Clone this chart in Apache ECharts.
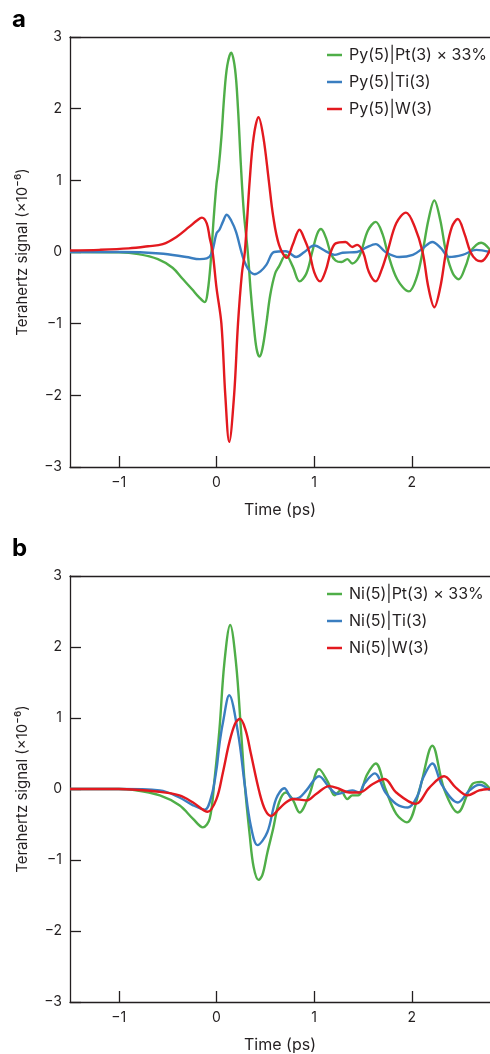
<!DOCTYPE html>
<html>
<head>
<meta charset="utf-8">
<script src="https://cdn.jsdelivr.net/npm/echarts@6/dist/echarts.min.js"></script>
<style>
  html, body { margin: 0; padding: 0; background: #fff; }
  #chart { width: 490px; height: 1054px; }
</style>
</head>
<body>
<div id="chart"></div>
<script>
// panel a: Py(5)|X(3)
const tA_pt = [-1.5,-1.0,-0.8,-0.6,-0.45,-0.35,-0.25,-0.18,-0.12,-0.09,-0.06,-0.03,0.0,0.02,0.05,0.08,0.11,0.15,0.19,0.22,0.25,0.28,0.32,0.35,0.38,0.41,0.44,0.47,0.51,0.55,0.60,0.64,0.71,0.78,0.85,0.92,0.98,1.03,1.07,1.12,1.17,1.22,1.28,1.34,1.39,1.44,1.48,1.55,1.63,1.70,1.75,1.85,1.97,2.05,2.11,2.17,2.23,2.29,2.35,2.42,2.48,2.55,2.60,2.66,2.71,2.8]
const vA_pt = [0,-0.005,-0.03,-0.10,-0.22,-0.37,-0.52,-0.63,-0.70,-0.55,-0.15,0.45,0.95,1.15,1.6,2.2,2.6,2.78,2.55,2.0,1.2,0.55,0.0,-0.55,-1.0,-1.35,-1.46,-1.35,-1.0,-0.6,-0.3,-0.2,-0.04,-0.2,-0.41,-0.3,0.0,0.25,0.32,0.2,-0.02,-0.12,-0.14,-0.10,-0.16,-0.11,0.0,0.3,0.42,0.25,0.0,-0.38,-0.55,-0.35,0.0,0.45,0.72,0.45,0.0,-0.3,-0.38,-0.2,0.0,0.1,0.13,0.03]

const tA_ti = [-1.5,-1.0,-0.58,-0.31,-0.17,-0.1,-0.05,0.0,0.03,0.065,0.105,0.15,0.2,0.27,0.33,0.39,0.45,0.51,0.59,0.71,0.815,0.9,1.0,1.12,1.21,1.29,1.44,1.53,1.63,1.73,1.87,2.01,2.11,2.21,2.3,2.38,2.52,2.66,2.8]
const vA_ti = [0,0,-0.02,-0.07,-0.1,-0.09,-0.02,0.26,0.31,0.42,0.52,0.44,0.28,-0.07,-0.25,-0.31,-0.27,-0.18,0.0,0.01,-0.07,0.0,0.09,0.01,-0.04,-0.01,0.0,0.06,0.11,0.0,-0.07,-0.04,0.05,0.14,0.05,-0.07,-0.04,0.03,0.0]

const tA_w = [-1.5,-1.2,-0.9,-0.7,-0.55,-0.41,-0.28,-0.2,-0.15,-0.1,-0.07,-0.04,0.0,0.05,0.09,0.13,0.18,0.22,0.26,0.29,0.34,0.38,0.43,0.48,0.535,0.58,0.64,0.72,0.78,0.85,0.90,0.95,1.00,1.06,1.12,1.17,1.22,1.32,1.39,1.44,1.50,1.56,1.63,1.69,1.75,1.84,1.94,2.03,2.11,2.17,2.23,2.29,2.35,2.41,2.47,2.54,2.60,2.66,2.71,2.8]
const vA_w = [0.02,0.03,0.05,0.08,0.11,0.21,0.35,0.44,0.48,0.4,0.2,0.0,-0.5,-1.0,-2.0,-2.65,-2.0,-1.0,-0.3,0.0,1.0,1.6,1.88,1.6,1.0,0.5,0.1,-0.08,0.1,0.31,0.18,0.0,-0.28,-0.41,-0.25,0.0,0.12,0.14,0.07,0.1,0.0,-0.28,-0.41,-0.25,0.0,0.4,0.55,0.35,0.0,-0.5,-0.77,-0.5,0.0,0.35,0.46,0.25,0.0,-0.11,-0.13,0.03]

// panel b: Ni(5)|X(3)
const tB_pt = [-1.5,-1.0,-0.86,-0.58,-0.38,-0.24,-0.14,-0.07,-0.02,0.03,0.08,0.14,0.2,0.25,0.29,0.34,0.38,0.43,0.47,0.52,0.58,0.64,0.71,0.78,0.85,0.95,1.05,1.14,1.21,1.27,1.34,1.39,1.45,1.54,1.63,1.73,1.84,1.95,2.08,2.21,2.33,2.47,2.62,2.71,2.8]
const vB_pt = [0,0,-0.01,-0.09,-0.23,-0.42,-0.54,-0.42,0.14,0.84,1.77,2.31,1.77,0.84,0.05,-0.65,-1.1,-1.28,-1.21,-0.9,-0.56,-0.19,-0.05,-0.15,-0.33,-0.08,0.28,0.1,-0.09,-0.02,-0.14,-0.09,-0.09,0.2,0.36,0.0,-0.35,-0.47,0.0,0.61,0.0,-0.33,0.07,0.10,0.0]

const tB_ti = [-1.5,-1.0,-0.58,-0.38,-0.24,-0.12,-0.05,0.0,0.03,0.065,0.13,0.22,0.29,0.35,0.42,0.52,0.61,0.695,0.78,0.85,0.92,1.05,1.155,1.24,1.39,1.46,1.51,1.62,1.73,1.84,1.96,2.06,2.11,2.21,2.31,2.47,2.59,2.69,2.8]
const vB_ti = [0,0,-0.02,-0.12,-0.23,-0.29,-0.09,0.28,0.63,0.93,1.32,0.79,0.05,-0.51,-0.79,-0.61,-0.14,0.01,-0.14,-0.12,-0.02,0.18,0.02,-0.07,-0.02,-0.05,0.07,0.22,-0.05,-0.21,-0.26,-0.09,0.14,0.36,0.05,-0.19,-0.02,0.06,-0.02]

const tB_w = [-1.5,-1.0,-0.58,-0.38,-0.24,-0.09,0.0,0.065,0.13,0.19,0.24,0.3,0.35,0.44,0.5,0.56,0.64,0.71,0.78,0.92,1.02,1.155,1.26,1.36,1.46,1.6,1.72,1.84,2.04,2.18,2.33,2.45,2.57,2.69,2.8]
const vB_w = [0,0,-0.04,-0.09,-0.19,-0.32,-0.14,0.23,0.65,0.92,0.99,0.82,0.51,-0.05,-0.3,-0.38,-0.28,-0.19,-0.14,-0.16,-0.07,0.04,0.0,-0.05,-0.05,0.07,0.14,-0.05,-0.21,0.02,0.18,0.02,-0.09,-0.02,0.0]

const namesA = ['Py(5)|Pt(3) × 33%', 'Py(5)|Ti(3)', 'Py(5)|W(3)']
const namesB = ['Ni(5)|Pt(3) × 33%', 'Ni(5)|Ti(3)', 'Ni(5)|W(3)']
const xTicks = [-1, 0, 1, 2]

const GREEN = '#4fae48'
const BLUE = '#3a7ec0'
const RED = '#e3191f'
const INK = '#231f20'
const FONT = 'Inter'

const pair = (t, v) => t.map((x, i) => [x, v[i]])
const minus = v => (v < 0 ? '\u2212' + Math.abs(v) : String(v))

function xAxes(gi) {
  return [{
    type: 'value', gridIndex: gi, min: -1.5, max: 2.8,
    name: 'Time (ps)', nameLocation: 'middle', nameGap: 35,
    nameTextStyle: { color: INK, fontSize: 16, fontFamily: FONT },
    axisLine: { onZero: false, lineStyle: { color: INK, width: 1.3 } },
    axisTick: { inside: true, length: 11, customValues: xTicks, lineStyle: { color: INK, width: 1.3 } },
    axisLabel: { customValues: xTicks, margin: 9, color: INK, fontSize: 14, fontFamily: FONT, formatter: minus },
    splitLine: { show: false },
  }, {
    type: 'value', gridIndex: gi, position: 'top', min: -1.5, max: 2.8,
    axisLine: { onZero: false, lineStyle: { color: INK, width: 1.3 } },
    axisTick: { show: false }, axisLabel: { show: false }, splitLine: { show: false },
  }]
}

function yAxis(gi) {
  return {
    type: 'value', gridIndex: gi, min: -3, max: 3, interval: 1,
    name: 'Terahertz signal (×10⁻⁶)', nameLocation: 'middle', nameGap: 40,
    nameTextStyle: { color: INK, fontSize: 15, fontFamily: FONT },
    axisLine: { show: true, onZero: false, lineStyle: { color: INK, width: 1.3 } },
    axisTick: { inside: true, length: 11, lineStyle: { color: INK, width: 1.3 } },
    axisLabel: { margin: 8, color: INK, fontSize: 14, fontFamily: FONT, formatter: minus },
    splitLine: { show: false },
  }
}

function line(name, data, color, xi, yi) {
  return {
    name, type: 'line', xAxisIndex: xi, yAxisIndex: yi, data,
    showSymbol: false, smooth: 0.35, clip: true,
    lineStyle: { color, width: 2.4 }, itemStyle: { color },
  }
}

function legend(names, top) {
  return {
    data: names, orient: 'vertical', left: 327, top, padding: 0,
    icon: 'rect', itemWidth: 15, itemHeight: 2.5, itemGap: 9,
    textStyle: { color: INK, fontSize: 16, fontFamily: FONT, lineHeight: 18, padding: [0, 0, 0, 2] },
    selectedMode: false,
  }
}

const chart = echarts.init(document.getElementById('chart'), null, { renderer: 'canvas' })
chart.setOption({
  animation: false,
  backgroundColor: '#fff',
  grid: [
    { left: 70, top: 37, right: 0, height: 430 },
    { left: 70, top: 576, right: 0, height: 428 },
  ],
  xAxis: [...xAxes(0), ...xAxes(1)],
  yAxis: [yAxis(0), yAxis(1)],
  legend: [legend(namesA, 46), legend(namesB, 585)],
  graphic: [
    { type: 'text', left: 12, top: 8, style: { text: 'a', font: 'bold 24px ' + FONT, fill: '#000' } },
    { type: 'text', left: 12, top: 537, style: { text: 'b', font: 'bold 24px ' + FONT, fill: '#000' } },
  ],
  series: [
    line(namesA[0], pair(tA_pt, vA_pt), GREEN, 0, 0),
    line(namesA[1], pair(tA_ti, vA_ti), BLUE, 0, 0),
    line(namesA[2], pair(tA_w, vA_w), RED, 0, 0),
    line(namesB[0], pair(tB_pt, vB_pt), GREEN, 2, 1),
    line(namesB[1], pair(tB_ti, vB_ti), BLUE, 2, 1),
    line(namesB[2], pair(tB_w, vB_w), RED, 2, 1),
  ],
})
</script>
</body>
</html>
